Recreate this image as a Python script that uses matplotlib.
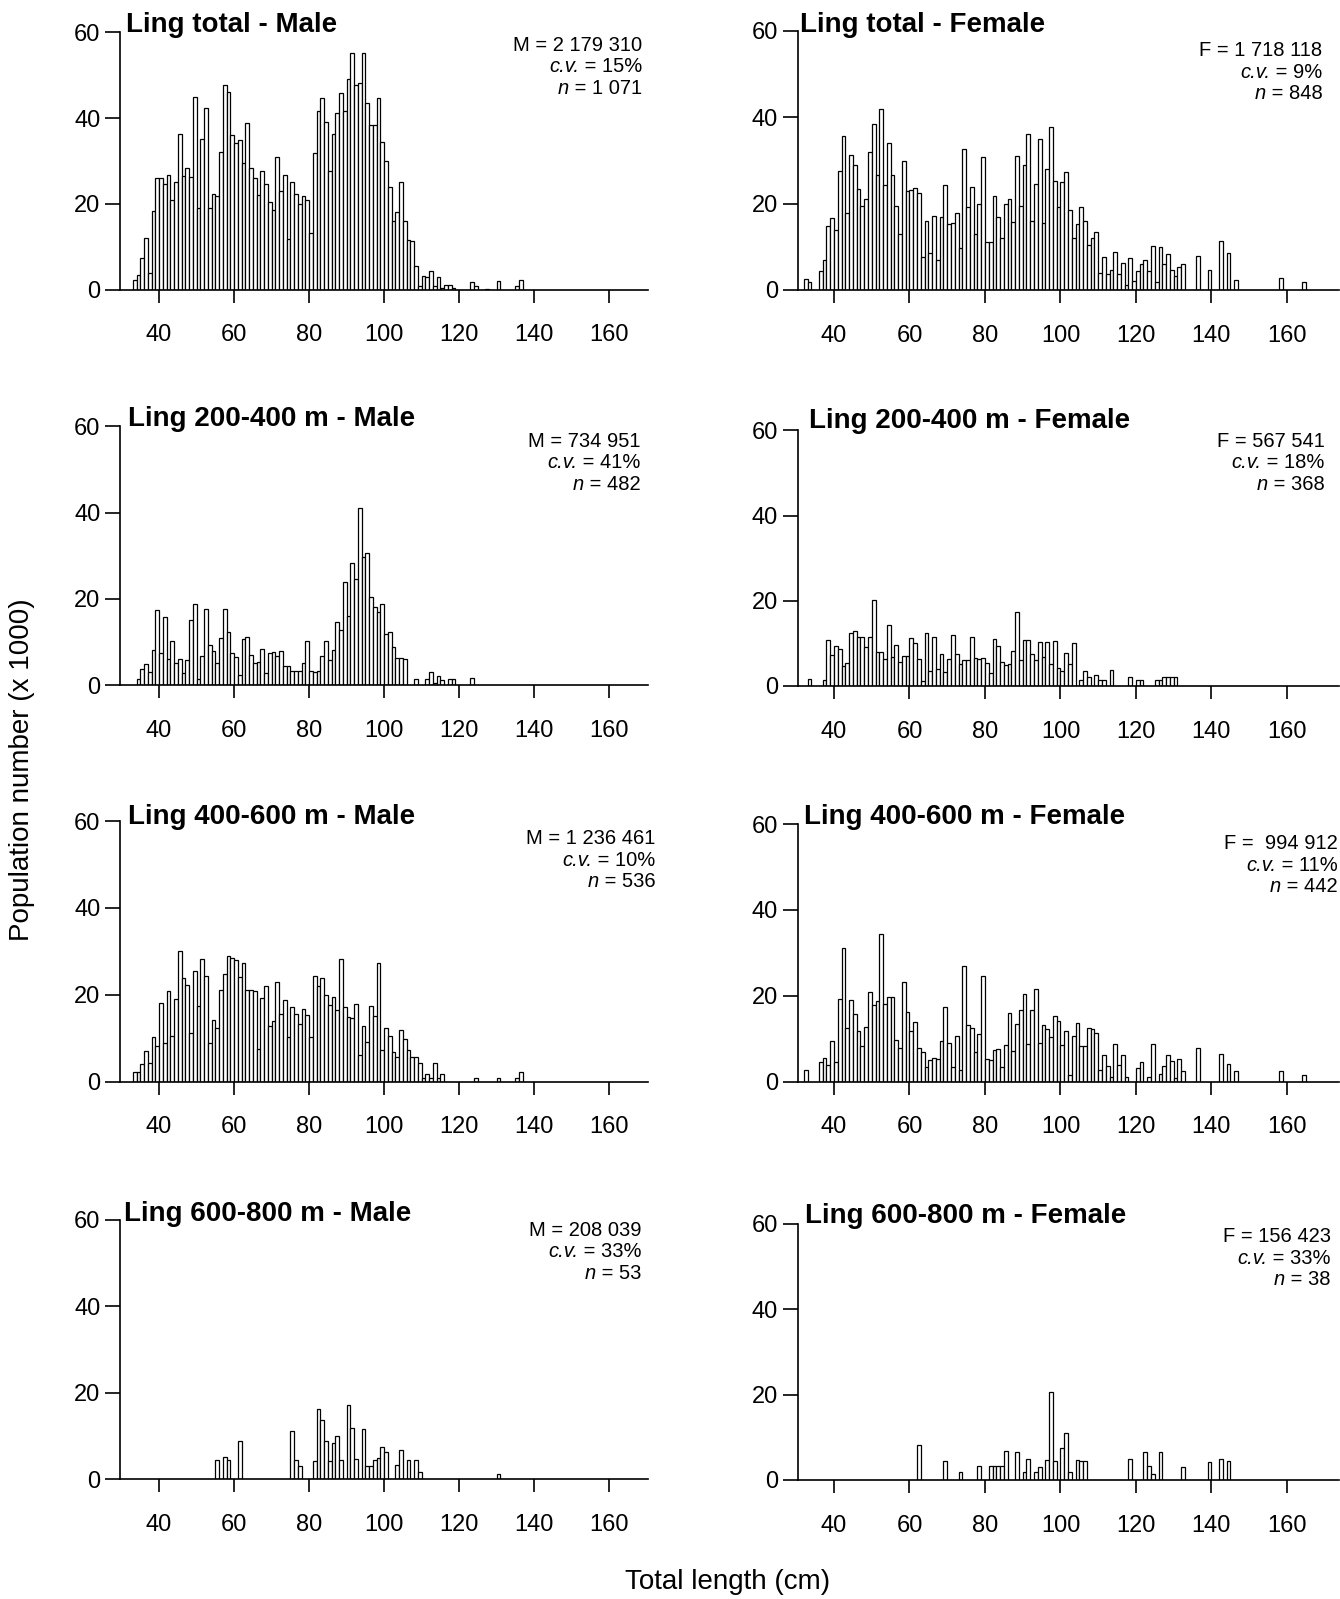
import matplotlib.pyplot as plt
import numpy as np

plt.rcParams['font.family'] = ['Liberation Sans', 'DejaVu Sans']

# population numbers (x 1000) per 1 cm length class, first value is at `*_start` cm
male_total_start = 30
male_total = [
    0, 0, 0, 2.2, 3.5, 7.5, 12.0, 3.9, 18.4, 26.1,
    26.0, 24.7, 26.7, 20.9, 25.0, 36.2, 26.5, 28.3, 26.2, 45.0,
    19.0, 35.1, 42.4, 19.0, 22.3, 21.9, 32.0, 47.8, 46.1, 36.0,
    34.1, 35.0, 29.5, 38.8, 28.3, 26.1, 22.1, 27.7, 24.6, 20.5,
    18.6, 31.0, 23.1, 26.7, 11.8, 25.0, 22.3, 19.9, 21.9, 20.9,
    13.2, 31.8, 41.6, 44.7, 39.1, 27.7, 36.3, 41.1, 45.9, 41.7,
    49.1, 55.2, 47.8, 48.2, 55.2, 43.6, 38.4, 38.4, 44.6, 34.5,
    30.0, 24.0, 15.9, 18.0, 25.0, 15.9, 11.6, 11.4, 5.6, 0.9,
    3.1, 2.9, 4.3, 0.9, 2.9, 0.5, 1.2, 1.2, 0.3, 0,
    0, 0, 0, 1.7, 0.8, 0, 0, 0.2, 0, 0,
    2.1, 0, 0, 0, 0, 0.8, 2.3]

female_total_start = 30
female_total = [
    0, 0, 2.6, 1.8, 0, 0, 4.4, 6.9, 14.7, 16.7,
    13.9, 27.6, 35.6, 17.7, 31.3, 28.8, 23.4, 19.5, 21.1, 32.0,
    38.3, 26.7, 41.8, 24.4, 34.1, 26.5, 19.5, 13.0, 29.8, 23.0,
    23.2, 23.7, 22.4, 7.6, 16.0, 8.5, 17.1, 6.9, 16.9, 24.4,
    15.2, 15.4, 17.9, 9.7, 32.7, 19.1, 23.8, 13.0, 20.0, 30.7,
    11.0, 11.2, 21.8, 16.9, 12.1, 19.8, 21.1, 15.8, 31.1, 19.4,
    29.0, 36.0, 16.0, 24.6, 34.9, 15.6, 28.0, 37.6, 25.3, 19.2,
    25.0, 27.4, 18.6, 12.0, 15.2, 19.2, 16.0, 10.3, 12.1, 13.5,
    4.0, 7.6, 3.7, 4.7, 8.8, 3.7, 6.3, 1.2, 7.3, 2.0,
    4.5, 6.0, 7.0, 4.5, 10.1, 1.8, 9.9, 5.9, 8.3, 4.7,
    3.2, 5.3, 5.9, 0, 0, 0, 7.9, 0, 0, 4.6,
    0, 0, 11.4, 0, 8.5, 0, 2.4, 0, 0, 0,
    0, 0, 0, 0, 0, 0, 0, 0, 2.7, 0,
    0, 0, 0, 0, 1.8]

male_200_start = 30
male_200 = [
    0, 0, 0, 0, 1.3, 3.7, 4.9, 3.0, 8.1, 17.3,
    7.5, 15.7, 6.0, 10.3, 5.0, 6.0, 2.7, 5.7, 15.0, 18.8,
    1.4, 6.8, 17.6, 9.3, 7.9, 5.2, 10.9, 17.7, 12.4, 7.5,
    6.4, 2.3, 10.6, 11.2, 7.0, 5.2, 5.4, 8.3, 2.7, 7.5,
    7.6, 6.8, 7.9, 4.4, 4.3, 3.3, 3.3, 3.3, 5.2, 10.3,
    3.3, 3.1, 3.3, 6.8, 10.1, 5.8, 8.1, 14.6, 12.8, 24.0,
    16.1, 28.3, 24.7, 41.1, 29.7, 30.5, 20.4, 18.2, 17.0, 18.8,
    11.8, 12.4, 8.9, 6.2, 6.2, 6.0, 0, 0, 1.4, 0,
    0, 1.4, 2.9, 0.5, 2.1, 1.2, 0, 1.4, 1.4, 0,
    0, 0, 0, 1.7]

female_200_start = 30
female_200 = [
    0, 0, 0, 1.7, 0, 0, 0, 1.4, 10.8, 7.2,
    9.3, 8.6, 4.6, 5.5, 12.4, 13.0, 11.6, 11.4, 9.2, 11.6,
    20.3, 8.0, 8.0, 6.4, 14.4, 6.9, 9.7, 5.7, 7.0, 7.0,
    11.3, 10.0, 6.4, 1.1, 12.4, 3.6, 11.5, 3.9, 7.6, 3.2,
    6.4, 11.9, 7.6, 5.1, 6.1, 6.1, 11.4, 6.6, 6.3, 6.6,
    5.3, 3.0, 11.0, 9.5, 5.6, 4.9, 5.1, 8.2, 17.3, 6.1,
    10.7, 10.9, 7.4, 6.1, 10.3, 6.8, 10.3, 5.1, 10.5, 4.2,
    3.6, 7.8, 5.1, 10.1, 0, 1.5, 3.6, 2.0, 0, 2.5,
    1.5, 1.5, 0, 3.7, 0, 0, 0, 0, 2.0, 0,
    1.5, 1.5, 0, 0, 0, 1.5, 1.5, 2.0, 2.0, 2.0,
    2.0]

male_400_start = 30
male_400 = [
    0, 0, 0, 2.3, 2.3, 4.0, 7.1, 4.2, 10.2, 8.3,
    18.2, 9.0, 20.8, 10.5, 19.0, 30.0, 23.9, 22.2, 11.3, 25.5,
    17.4, 28.2, 24.4, 8.8, 14.3, 12.3, 21.1, 24.8, 29.0, 28.4,
    28.0, 24.0, 27.4, 21.2, 21.1, 20.9, 7.5, 19.3, 22.0, 12.8,
    14.0, 23.0, 15.6, 18.9, 10.3, 17.3, 15.5, 13.2, 16.7, 15.3,
    10.3, 24.3, 22.0, 23.9, 19.9, 17.6, 19.4, 16.5, 28.2, 17.2,
    14.9, 14.6, 17.9, 6.1, 12.8, 9.1, 17.5, 15.2, 27.4, 7.4,
    12.3, 10.6, 6.9, 5.7, 11.8, 9.8, 7.4, 5.6, 5.6, 4.2,
    0.9, 1.8, 0.8, 4.4, 0.8, 1.8, 0, 0, 0, 0,
    0, 0, 0, 0, 0.8, 0, 0, 0, 0, 0,
    0.8, 0, 0, 0, 0, 0.8, 2.3]

female_400_start = 30
female_400 = [
    0, 0, 2.7, 0, 0, 0, 4.6, 5.6, 3.8, 9.5,
    4.6, 19.2, 31.2, 12.4, 19.1, 15.8, 11.9, 8.3, 12.7, 20.8,
    17.9, 18.8, 34.5, 18.2, 19.8, 19.8, 9.7, 7.9, 23.2, 16.2,
    11.8, 13.8, 7.9, 6.8, 3.5, 5.1, 5.5, 5.2, 9.5, 17.3,
    9.1, 3.5, 10.6, 2.7, 26.9, 13.2, 12.4, 6.9, 11.0, 24.5,
    5.4, 5.0, 7.4, 7.5, 3.5, 8.5, 16.0, 7.2, 13.5, 16.6,
    20.4, 8.7, 16.8, 21.5, 9.1, 13.1, 12.2, 10.5, 15.2, 14.1,
    8.5, 11.8, 1.6, 10.6, 13.7, 8.3, 8.3, 12.4, 12.2, 11.4,
    2.7, 6.2, 3.7, 1.0, 8.8, 3.8, 6.3, 1.2, 0, 0,
    3.1, 4.6, 0, 1.0, 8.8, 0, 1.8, 3.7, 6.2, 4.8,
    0.8, 5.4, 2.5, 0, 0, 0, 7.8, 0, 0, 0,
    0, 0, 6.4, 0, 4.1, 0, 2.5, 0, 0, 0,
    0, 0, 0, 0, 0, 0, 0, 0, 2.5, 0,
    0, 0, 0, 0, 1.6]

male_600_start = 50
male_600 = [
    0, 0, 0, 0, 0, 4.4, 0, 5.0, 4.4, 0,
    0, 8.7, 0, 0, 0, 0, 0, 0, 0, 0,
    0, 0, 0, 0, 0, 11.0, 4.4, 3.0, 0, 0,
    0, 4.2, 16.3, 13.6, 8.7, 4.2, 8.4, 10.0, 4.4, 0,
    17.2, 11.8, 4.7, 0, 11.6, 3.1, 3.1, 4.4, 4.8, 7.5,
    6.2, 0, 0, 3.3, 6.7, 0, 4.3, 0, 4.3, 1.7,
    0, 0, 0, 0, 0, 0, 0, 0, 0, 0,
    0, 0, 0, 0, 0, 0, 0, 0, 0, 0,
    1.1]

female_600_start = 60
female_600 = [
    0, 0, 8.3, 0, 0, 0, 0, 0, 0, 4.4,
    0, 0, 0, 1.8, 0, 0, 0, 0, 3.3, 0,
    0, 3.3, 3.3, 3.3, 3.3, 6.7, 0, 0, 6.6, 0,
    1.8, 4.9, 0, 1.8, 3.1, 0, 4.8, 20.5, 4.4, 0,
    7.5, 11.0, 1.8, 0, 4.8, 4.4, 4.4, 0, 0, 0,
    0, 0, 0, 0, 0, 0, 0, 0, 4.9, 0,
    0, 0, 6.6, 3.3, 1.3, 0, 6.6, 0, 0, 0,
    0, 0, 3.1, 0, 0, 0, 0, 0, 0, 4.3,
    0, 0, 4.9, 0, 4.4]

titles = ['Ling total - Male', 'Ling total - Female',
          'Ling 200-400 m - Male', 'Ling 200-400 m - Female',
          'Ling 400-600 m - Male', 'Ling 400-600 m - Female',
          'Ling 600-800 m - Male', 'Ling 600-800 m - Female']
totals = ['M = 2 179 310', 'F = 1 718 118', 'M = 734 951', 'F = 567 541',
          'M = 1 236 461', 'F =  994 912', 'M = 208 039', 'F = 156 423']
cvs = ['15%', '9%', '41%', '18%', '10%', '11%', '33%', '33%']
ns = ['1 071', '848', '482', '368', '536', '442', '53', '38']

x_ticks = [40, 60, 80, 100, 120, 140, 160]
y_ticks = [0, 20, 40, 60]

series = [(male_total_start, male_total), (female_total_start, female_total),
          (male_200_start, male_200), (female_200_start, female_200),
          (male_400_start, male_400), (female_400_start, female_400),
          (male_600_start, male_600), (female_600_start, female_600)]

# layout in pixels of the 1340x1599 figure
W, H = 1340, 1599
row_px = [(32.3, 289.7, 30.6, 290.0), (426.3, 685.0, 430.4, 686.0),
          (821.0, 1081.7, 824.0, 1081.7), (1219.7, 1479.0, 1223.8, 1480.0)]
col_px = [(120, 648, (29.6, 170.4)), (797.5, 1339, (30.33, 173.8))]
title_px = [(126.5, 25), (799.5, 25), (128.5, 418.5), (808.7, 420.5),
            (128.5, 816.5), (803.6, 816.5), (124.4, 1214), (804.6, 1216)]
stat_px = [(642.5, 46), (1322.6, 51), (640.4, 441.6), (1324.7, 441.6),
           (655.7, 839.3), (1338, 844.4), (641.4, 1230.9), (1330.8, 1237)]
line_gap = 21.5
stat_size = 14.5

fig = plt.figure(figsize=(W / 100, H / 100), dpi=100)


def stat_line(x, y, label, rest):
    # italic label followed by upright text, right-aligned as one line
    t = fig.text(x, y, rest, ha='right', va='baseline', fontsize=stat_size)
    if label:
        fig.add_artist(plt.Annotation(label, xy=(0, 0), xycoords=t,
                                      ha='right', va='bottom',
                                      fontsize=stat_size, style='italic'))


for i, (start, vals) in enumerate(series):
    r, c = divmod(i, 2)
    top, bot = row_px[r][2 * c], row_px[r][2 * c + 1]
    left, right, xlim = col_px[c]
    ax = fig.add_axes([left / W, 1 - bot / H, (right - left) / W, (bot - top) / H])
    vals = np.array(vals, dtype=float)
    lengths = start + np.arange(len(vals))
    keep = vals > 0
    ax.bar(lengths[keep], vals[keep], width=1, align='edge',
           facecolor='white', edgecolor='black', linewidth=0.9)
    ax.set_xlim(*xlim)
    ax.set_ylim(0, 60)
    ax.spines[['top', 'right']].set_visible(False)
    ax.spines[['left', 'bottom']].set_linewidth(1.2)
    ax.set_xticks(x_ticks)
    ax.set_yticks(y_ticks)
    ax.tick_params(axis='x', length=9, width=1.2, pad=16, labelsize=17)
    ax.tick_params(axis='y', length=11, width=1.2, pad=3, labelsize=17)

    tx, ty = title_px[i]
    fig.text(tx / W, 1 - ty / H, titles[i], ha='left', va='center',
             fontsize=20, fontweight='bold')
    sx, sy = stat_px[i]
    base = 5  # baseline sits a little below the line centre
    stat_line(sx / W, 1 - (sy + base) / H, '', totals[i])
    stat_line(sx / W, 1 - (sy + line_gap + base) / H, 'c.v.', ' = ' + cvs[i])
    stat_line(sx / W, 1 - (sy + 2 * line_gap + base) / H, 'n', ' = ' + ns[i])

fig.text(22.4 / W, 1 - 770 / H, 'Population number (x 1000)', rotation=90,
         ha='center', va='center', fontsize=20)
fig.text(728 / W, 1 - 1582 / H, 'Total length (cm)', ha='center', va='center',
         fontsize=20)

fig.savefig('out.png', dpi=100)
